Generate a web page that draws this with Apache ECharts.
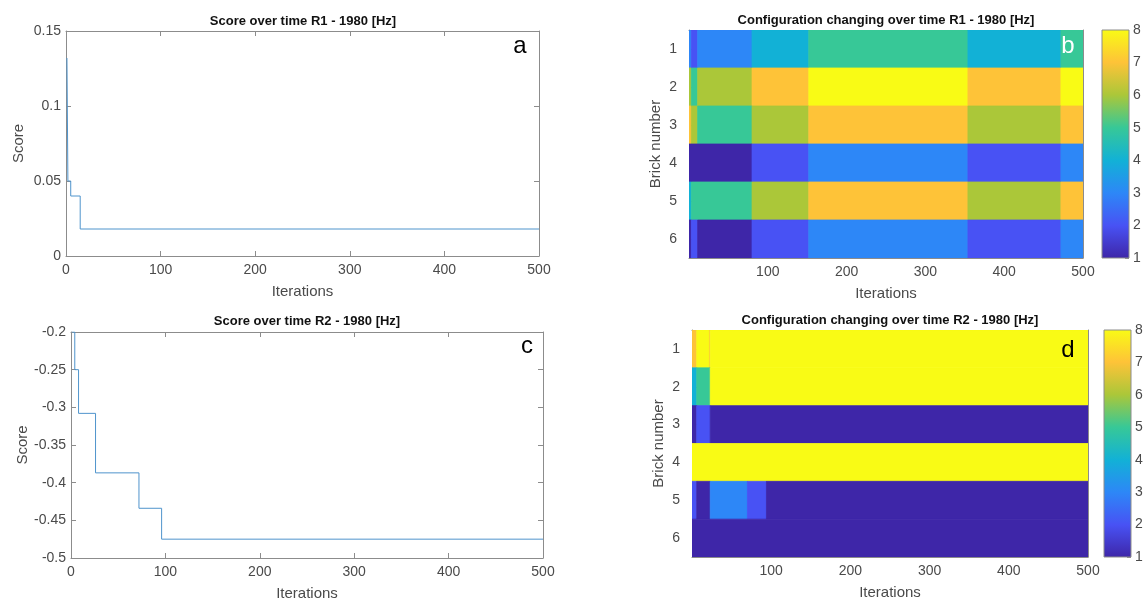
<!DOCTYPE html>
<html>
<head>
<meta charset="utf-8">
<script src="https://cdn.jsdelivr.net/npm/echarts@6/dist/echarts.min.js"></script>
<style>
  html, body { margin: 0; background: #fff; }
  #chart { width: 1148px; height: 603px; }
</style>
</head>
<body>
<div id="chart"></div>
<script>
// score traces (step changes)
const iterationsA = [1, 2, 5, 15, 500];
const scoreA = [0.132, 0.05, 0.04, 0.018, 0.018];
const iterationsC = [1, 4, 8, 26, 72, 96, 500];
const scoreC = [-0.2, -0.25, -0.308, -0.387, -0.434, -0.475, -0.475];

// brick configurations: column cuts (iterations) and value per segment, one row per brick
const bricks = ['1', '2', '3', '4', '5', '6'];
const cutsB = [0, 3, 11, 80, 152, 354, 472, 500];
const configB = [
  [3, 2, 3, 4, 5, 4, 5],
  [6, 5, 6, 7, 8, 7, 8],
  [7, 6, 5, 6, 7, 6, 7],
  [1, 1, 1, 2, 3, 2, 3],
  [4, 5, 5, 6, 7, 6, 7],
  [1, 2, 1, 2, 3, 2, 3]
];
const cutsD = [0, 6, 22, 23, 70, 94, 500];
const configD = [
  [7, 8, 7, 8, 8, 8],
  [4, 5, 5, 8, 8, 8],
  [1, 2, 2, 1, 1, 1],
  [8, 8, 8, 8, 8, 8],
  [2, 1, 1, 3, 2, 1],
  [1, 1, 1, 1, 1, 1]
];
const colorRange = [1, 8];
const parula = ['#3E26A8', '#4852F4', '#2D87F7', '#12B1D6', '#37C897', '#ABC739', '#FEC338', '#F9FB15'];

const FONT = "'Liberation Sans', Arial, sans-serif";
const LINE = '#8c8c8c';
const LABEL = '#4a4a4a';

// one cell per run of equal values in a row
function toCells(cuts, config) {
  const cells = [];
  config.forEach((row, r) => {
    let start = 0;
    for (let i = 1; i <= row.length; i++) {
      if (i === row.length || row[i] !== row[start]) {
        cells.push([cuts[start], cuts[i], r, row[start]]);
        start = i;
      }
    }
  });
  return cells;
}

function renderCells(params, api) {
  const start = api.coord([api.value(0), api.value(2)]);
  const end = api.coord([api.value(1), api.value(2)]);
  const h = api.size([0, 1])[1];
  const color = api.visual('color');
  return {
    type: 'rect',
    shape: { x: start[0], y: start[1] - h / 2, width: end[0] - start[0], height: h },
    style: { fill: color, stroke: color, lineWidth: 0.8 }
  };
}

function renderColorbar(params, api) {
  const lo = api.coord([0, api.value(0)]);
  const hi = api.coord([1, api.value(1)]);
  return {
    type: 'rect',
    shape: { x: lo[0], y: hi[1], width: hi[0] - lo[0], height: lo[1] - hi[1] },
    style: {
      fill: new echarts.graphic.LinearGradient(0, 1, 0, 0,
        parula.map((c, i) => ({ offset: i / (parula.length - 1), color: c }))),
      stroke: LINE, lineWidth: 1
    }
  };
}

const axisLine = { show: true, onZero: false, lineStyle: { color: LINE, width: 1 } };
const tickIn = { show: true, inside: true, length: 5, lineStyle: { color: LINE } };
const labelStyle = { color: LABEL, fontFamily: FONT, fontSize: 14 };
const nameStyle = { color: LABEL, fontFamily: FONT, fontSize: 15 };

function iterAxis(grid, showZero) {
  return {
    type: 'value', gridIndex: grid, min: 0, max: 500, interval: 100, position: 'bottom',
    axisLine, axisTick: tickIn, splitLine: { show: false },
    axisLabel: Object.assign({ margin: 7, showMinLabel: showZero }, labelStyle),
    name: 'Iterations', nameLocation: 'middle', nameGap: 28, nameTextStyle: nameStyle
  };
}
function topAxis(grid) {
  return {
    type: 'value', gridIndex: grid, min: 0, max: 500, interval: 100, position: 'top',
    axisLine, axisTick: tickIn, axisLabel: { show: false }, splitLine: { show: false }
  };
}
function scoreAxis(grid, min, max, right) {
  return {
    type: 'value', gridIndex: grid, min, max, interval: 0.05, position: right ? 'right' : 'left',
    axisLine, axisTick: tickIn, splitLine: { show: false },
    axisLabel: right ? { show: false } : Object.assign({ margin: 5 }, labelStyle),
    name: right ? '' : 'Score', nameLocation: 'middle', nameGap: 40, nameTextStyle: nameStyle
  };
}
function brickAxis(grid, right) {
  return {
    type: 'category', gridIndex: grid, data: bricks, inverse: true, position: right ? 'right' : 'left',
    axisLine, axisTick: Object.assign({ alignWithLabel: true }, tickIn),
    axisLabel: right ? { show: false } : Object.assign({ margin: 12 }, labelStyle),
    splitLine: { show: false },
    name: right ? '' : 'Brick number', nameLocation: 'middle', nameGap: 26, nameTextStyle: nameStyle
  };
}
function barX(grid) {
  return { type: 'value', gridIndex: grid, min: 0, max: 1, show: false };
}
function barY(grid) {
  return {
    type: 'value', gridIndex: grid, min: colorRange[0], max: colorRange[1], interval: 1, position: 'right',
    axisLine: { show: false, onZero: false },
    axisTick: { show: true, inside: true, length: 4, lineStyle: { color: LINE } },
    axisLabel: Object.assign({ margin: 4 }, labelStyle), splitLine: { show: false }
  };
}

function caption(text, x, y) {
  return {
    type: 'text', x, y,
    style: { text, fill: '#111', font: 'bold 13px ' + FONT, textAlign: 'center', textVerticalAlign: 'middle' }
  };
}
function letter(text, x, y, color) {
  return {
    type: 'text', x, y, z: 100,
    style: { text, fill: color, font: '24px ' + FONT, textAlign: 'center', textVerticalAlign: 'middle' }
  };
}

const chart = echarts.init(document.getElementById('chart'));

const option = {
  backgroundColor: '#fff',
  animation: false,
  grid: [
    { left: 66, top: 31, width: 473, height: 225 },
    { left: 71, top: 332, width: 472, height: 226 },
    { left: 689, top: 30, width: 394, height: 228 },
    { left: 692, top: 330, width: 396, height: 227 },
    { left: 1102, top: 30, width: 27, height: 228 },
    { left: 1104, top: 330, width: 27, height: 227 }
  ],
  xAxis: [
    iterAxis(0, true), topAxis(0),
    iterAxis(1, true), topAxis(1),
    iterAxis(2, false), topAxis(2),
    iterAxis(3, false), topAxis(3),
    barX(4), barX(5)
  ],
  yAxis: [
    scoreAxis(0, 0, 0.15, false), scoreAxis(0, 0, 0.15, true),
    scoreAxis(1, -0.5, -0.2, false), scoreAxis(1, -0.5, -0.2, true),
    brickAxis(2, false), brickAxis(2, true),
    brickAxis(3, false), brickAxis(3, true),
    barY(4), barY(5)
  ],
  visualMap: [
    { type: 'continuous', show: false, min: colorRange[0], max: colorRange[1], dimension: 3,
      seriesIndex: 2, inRange: { color: parula } },
    { type: 'continuous', show: false, min: colorRange[0], max: colorRange[1], dimension: 3,
      seriesIndex: 3, inRange: { color: parula } }
  ],
  series: [
    {
      type: 'line', xAxisIndex: 0, yAxisIndex: 0, step: 'end', showSymbol: false,
      lineStyle: { color: '#4f94cc', width: 1 },
      data: iterationsA.map((x, i) => [x, scoreA[i]])
    },
    {
      type: 'line', xAxisIndex: 2, yAxisIndex: 2, step: 'end', showSymbol: false,
      lineStyle: { color: '#4f94cc', width: 1 },
      data: iterationsC.map((x, i) => [x, scoreC[i]])
    },
    {
      type: 'custom', xAxisIndex: 4, yAxisIndex: 4, renderItem: renderCells, clip: true,
      encode: { x: [0, 1], y: 2 }, data: toCells(cutsB, configB)
    },
    {
      type: 'custom', xAxisIndex: 6, yAxisIndex: 6, renderItem: renderCells, clip: true,
      encode: { x: [0, 1], y: 2 }, data: toCells(cutsD, configD)
    },
    {
      type: 'custom', xAxisIndex: 8, yAxisIndex: 8, renderItem: renderColorbar,
      encode: { y: [0, 1] }, data: [colorRange]
    },
    {
      type: 'custom', xAxisIndex: 9, yAxisIndex: 9, renderItem: renderColorbar,
      encode: { y: [0, 1] }, data: [colorRange]
    }
  ],
  graphic: [
    caption('Score over time R1 - 1980 [Hz]', 303, 21),
    caption('Score over time R2 - 1980 [Hz]', 307, 321),
    caption('Configuration changing over time R1 - 1980 [Hz]', 886, 20),
    caption('Configuration changing over time R2 - 1980 [Hz]', 890, 320),
    letter('a', 520, 46, '#000'),
    letter('b', 1068, 46, '#fff'),
    letter('c', 527, 346, '#000'),
    letter('d', 1068, 350, '#000')
  ]
};

chart.setOption(option);
window.addEventListener('resize', () => chart.resize());
</script>
</body>
</html>
